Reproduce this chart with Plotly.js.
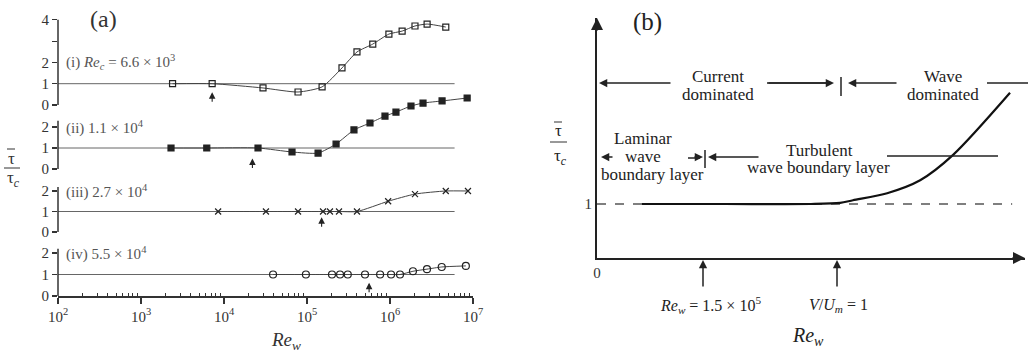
<!DOCTYPE html>
<html><head><meta charset="utf-8">
<script src="https://cdn.plot.ly/plotly-3.0.1.min.js"></script>
<style>html,body{margin:0;padding:0;background:#fff}#chart{width:1030px;height:355px}</style>
</head><body><div id="chart"></div>
<script>
// ---------- Panel (a) data ----------
const reI   = [2.4e3, 7.2e3, 2.95e4, 7.8e4, 1.52e5, 2.64e5, 4.0e5, 6.2e5, 9.7e5, 1.40e6, 2.0e6, 2.8e6, 4.7e6];
const tauI  = [1.0, 1.0, 0.80, 0.61, 0.85, 1.74, 2.49, 2.86, 3.33, 3.47, 3.71, 3.80, 3.66];
const reII  = [2.3e3, 6.2e3, 2.57e4, 6.6e4, 1.36e5, 2.24e5, 3.68e5, 5.74e5, 8.7e5, 1.18e6, 1.79e6, 2.5e6, 4.24e6, 8.5e6];
const tauII = [1.0, 1.0, 1.0, 0.81, 0.76, 1.19, 1.86, 2.19, 2.52, 2.71, 3.0, 3.14, 3.24, 3.38];
const reIII = [8.5e3, 3.2e4, 7.8e4, 1.56e5, 1.89e5, 2.43e5, 4.0e5, 9.5e5, 2.0e6, 4.7e6, 8.7e6];
const tauIII= [1, 1, 1, 1, 1, 1, 1, 1.5, 1.85, 2.0, 2.0];
const reIV  = [3.9e4, 9.7e4, 2.0e5, 2.5e5, 3.1e5, 5.0e5, 7.6e5, 1.03e6, 1.32e6, 1.89e6, 2.79e6, 4.2e6, 8.2e6];
const tauIV = [1, 1, 1, 1, 1, 1, 1, 1, 1, 1.15, 1.25, 1.35, 1.4];
const refRe = [1e2, 6e6];
const refTau = [1, 1];
const arrowRe  = [7.2e3, 2.2e4, 1.5e5, 5.6e5];
const arrowTau = [0.6, 0.5, 0.72, 0.62];
const subLabels = ['(i) <i>Re</i><sub><i>c</i></sub> = 6.6 × 10<sup>3</sup>',
                   '(ii) 1.1 × 10<sup>4</sup>', '(iii) 2.7 × 10<sup>4</sup>', '(iv) 5.5 × 10<sup>4</sup>'];
const xTickVals = [1e2, 1e3, 1e4, 1e5, 1e6, 1e7];
const xTickText = ['10<sup>2</sup>','10<sup>3</sup>','10<sup>4</sup>','10<sup>5</sup>','10<sup>6</sup>','10<sup>7</sup>'];

// ---------- Panel (b) data (schematic units) ----------
const bCurveX = [1.05, 3.0, 5.0, 5.68, 5.98, 6.78, 7.55, 8.32, 9.65];
const bCurveY = [1.0, 1.0, 1.0, 1.02, 1.07, 1.2, 1.44, 1.91, 3.06];
const bDashX = [0, 9.7];
const bDashY = [1, 1];

const W = 1030, H = 355;
const PX = x => x / W, PY = y => 1 - y / H;
const serif = '"Liberation Serif", "Times New Roman", serif';
const ink = '#333';
const inkB = '#222';

// per-subplot vertical placement: pixel of value 0, px per unit
const place = [[105, 21.3], [169, 21], [232, 20.5], [296, 21.5]];
const bottomPx = 296, topPx = 12;
function yr(k){ const [y0,s] = place[k]; return [(y0-bottomPx)/s, (y0-topPx)/s]; }

const traces = [];
const yNames = ['y','y2','y3','y4'];
const series = [[reI,tauI,'square-open',6],[reII,tauII,'square',6],[reIII,tauIII,'x-thin-open',6],[reIV,tauIV,'circle-open',7]];
series.forEach((s,k)=>{
  traces.push({x: refRe, y: refTau, yaxis: yNames[k], xaxis:'x', mode:'lines', line:{color:'#666', width:1}, hoverinfo:'skip'});
  traces.push({x: s[0], y: s[1], yaxis: yNames[k], xaxis:'x', mode:'lines+markers',
    line:{color:'#444', width:1, shape:'spline', smoothing:0.6},
    marker:{symbol:s[2], size:s[3], color:'#222', line:{color:'#222', width:1.2}}});
});
traces.push({x: bDashX, y: bDashY, xaxis:'x2', yaxis:'y5', mode:'lines', line:{color:'#555', width:1.5, dash:'dash'}});
traces.push({x: bCurveX, y: bCurveY, xaxis:'x2', yaxis:'y5', mode:'lines', line:{color:'#111', width:2.2, shape:'spline', smoothing:0.8}});

const minorVals = [];
for (let n=2;n<7;n++) for (let m=2;m<10;m++) minorVals.push(m*Math.pow(10,n));

const yDom = [PY(bottomPx), PY(topPx)];
function yAxis(k, extra){
  return Object.assign({domain: yDom, range: yr(k), anchor:'x', showgrid:false, zeroline:false, showline:false,
    ticks:'outside', ticklen:5, tickcolor:ink, tickwidth:1.2, tickfont:{family:serif, size:15, color:ink},
    tickmode:'array', tickvals:[0,1,2], ticktext:['0','1','2'], fixedrange:true}, extra||{});
}

const layout = {
  width: W, height: H, margin:{l:0,r:0,t:0,b:0}, paper_bgcolor:'#fff', plot_bgcolor:'rgba(0,0,0,0)',
  showlegend:false, font:{family:serif, color:ink},
  xaxis:{type:'log', domain:[PX(58), PX(473)], range:[2,7], anchor:'y4', showgrid:false, zeroline:false,
    showline:true, linecolor:ink, linewidth:1.5, ticks:'outside', ticklen:6, tickcolor:ink, tickwidth:1.2,
    tickmode:'array', tickvals:xTickVals, ticktext:xTickText, tickfont:{family:serif,size:15,color:'#333'},
    minor:{tickvals:minorVals, ticks:'inside', ticklen:3, tickcolor:ink, tickwidth:1}},
  yaxis: yAxis(0, {tickvals:[0,1,2,3,4], ticktext:['0','1','2','','4']}),
  yaxis2: yAxis(1, {overlaying:'y'}),
  yaxis3: yAxis(2, {overlaying:'y'}),
  yaxis4: yAxis(3, {overlaying:'y'}),
  xaxis2:{domain:[PX(597), PX(1025)], range:[0,10], anchor:'y5', showgrid:false, zeroline:false,
    showline:true, linecolor:'#222', linewidth:2, ticks:'', tickmode:'array', tickvals:[0], ticktext:['0'],
    tickfont:{family:serif,size:15,color:ink}},
  yaxis5:{domain:[PY(258), PY(18)], range:[0, 240/54], anchor:'x2', showgrid:false, zeroline:false,
    showline:true, linecolor:'#222', linewidth:2, ticks:'', tickmode:'array', tickvals:[1], ticktext:['1'],
    tickfont:{family:serif,size:15,color:ink}},
  shapes: [], annotations: []
};

// spines for panel (a)
[[0,4],[0,2.3],[0,2.2],[0,2.2]].forEach((r,k)=>{
  layout.shapes.push({type:'line', xref:'paper', yref:yNames[k], x0:PX(58), x1:PX(58), y0:r[0], y1:r[1], line:{color:ink,width:1.5}});
});
// fraction bars and overlines on tau
const fracLines = [[4,168,20,168],[7,149,15,149],[550,142,567,142],[554,122,562,122]];
fracLines.forEach(s=>layout.shapes.push({type:'line', xref:'paper', yref:'paper', x0:PX(s[0]), x1:PX(s[2]), y0:PY(s[1]), y1:PY(s[3]), line:{color:ink,width:1}}));
// panel (b) plain lines and bars
const segs = [[767,83,832,83],[987,83,1028,83],[887,156,998,156],[841,77,841,96],[705,150,705,168],[688,158,700,158]];
segs.forEach(s=>layout.shapes.push({type:'line', xref:'paper', yref:'paper', x0:PX(s[0]), y0:PY(s[1]), x1:PX(s[2]), y1:PY(s[3]), line:{color:'#222',width:1.5}}));

const A = layout.annotations;
function txt(x,y,t,size,extra){ A.push(Object.assign({xref:'paper',yref:'paper',x:PX(x),y:PY(y),text:t,showarrow:false,
  font:{family:serif,size:size,color:ink}, xanchor:'center', yanchor:'middle'}, extra||{})); }
function arr(x,y,ax,ay,extra){ A.push(Object.assign({xref:'paper',yref:'paper',x:PX(x),y:PY(y),ax:ax,ay:ay,text:'',showarrow:true,
  arrowhead:2, arrowsize:1.1, arrowwidth:1.5, arrowcolor:'#222'}, extra||{})); }

// panel (a) texts
txt(103, 19, '(a)', 24);
subLabels.forEach((t,k)=>{ const yp=[62,128,192,253][k]; txt(64, yp, t, 15, {xanchor:'left', font:{family:serif,size:15,color:'#555'}}); });
txt(286, 341, '<i>Re</i><sub><i>w</i></sub>', 19);
txt(11, 158, 'τ', 17);
txt(13, 179, 'τ<sub><i>c</i></sub>', 17);
// panel (a) arrows (data positions)
arrowRe.forEach((re,k)=>{
  A.push({xref:'x', yref:yNames[k], x:Math.log10(re), y:arrowTau[k], ax:0, ay:11, text:'', showarrow:true,
    arrowhead:2, arrowsize:1.2, arrowwidth:1.1, arrowcolor:'#222'});
});

// panel (b) texts
const bt = (x,y,t,s)=>txt(x,y,t,s,{font:{family:serif,size:s,color:inkB}});
bt(647, 22, '(b)', 25);
bt(558, 131, 'τ', 17);
bt(560, 157, 'τ<sub><i>c</i></sub>', 17);
bt(718, 77, 'Current', 17);
bt(718, 94, 'dominated', 17);
bt(943, 77, 'Wave', 17);
bt(943, 94, 'dominated', 17);
bt(643, 139, 'Laminar', 17);
bt(643, 156, 'wave', 17);
bt(652, 174.5, 'boundary layer', 17);
bt(819, 150, 'Turbulent', 17);
bt(818, 167.5, 'wave boundary layer', 17);
bt(710, 305, '<i>Re</i><sub><i>w</i></sub> = 1.5 × 10<sup>5</sup>', 16);
bt(838, 305, '<i>V</i>/<i>U</i><sub><i>m</i></sub> = 1', 16);
bt(808, 336, '<i>Re</i><sub><i>w</i></sub>', 20);
// panel (b) arrows
arr(599, 83, 73, 0);
arr(834, 83, -67, 0);
arr(848, 83, 50, 0);
arr(601, 157, 13, 0);
arr(703, 157, -10, 0);
arr(708, 157, 52, 0);
arr(703, 260, 0, 28);
arr(837, 260, 0, 28);
// axis arrowheads
A.push({xref:'x2', yref:'y5', x:0, y:240/54, ax:0, ay:14, text:'', showarrow:true, arrowhead:2, arrowsize:1.2, arrowwidth:2, arrowcolor:'#222'});
A.push({xref:'x2', yref:'y5', x:10, y:0, ax:-14, ay:0, text:'', showarrow:true, arrowhead:2, arrowsize:1.2, arrowwidth:2, arrowcolor:'#222'});

Plotly.newPlot('chart', traces, layout, {staticPlot:true, displayModeBar:false});
</script>
</body></html>
